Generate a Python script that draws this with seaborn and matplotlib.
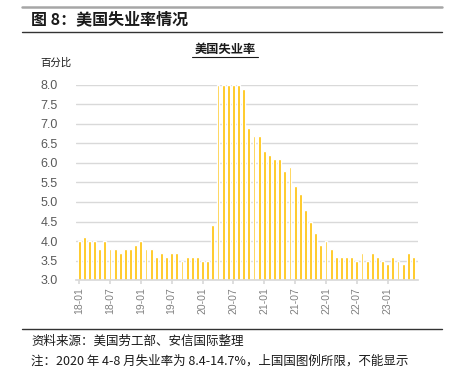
import matplotlib
matplotlib.use("Agg")
import matplotlib.pyplot as plt
from matplotlib.lines import Line2D
import seaborn as sns
import pandas as pd

months = [f"{y:02d}-{m:02d}" for y in range(18, 24) for m in range(1, 13)][:66]
rate = [
    4.0, 4.1, 4.0, 4.0, 3.8, 4.0, 3.8, 3.8, 3.7, 3.8, 3.8, 3.9,
    4.0, 3.8, 3.8, 3.6, 3.7, 3.6, 3.7, 3.7, 3.5, 3.6, 3.6, 3.6,
    3.5, 3.5, 4.4, 8.0, 8.0, 8.0, 8.0, 8.0, 7.9, 6.9, 6.7, 6.7,
    6.3, 6.2, 6.1, 6.1, 5.8, 5.9, 5.4, 5.2, 4.8, 4.5, 4.2, 3.9,
    4.0, 3.8, 3.6, 3.6, 3.6, 3.6, 3.5, 3.7, 3.5, 3.7, 3.6, 3.5,
    3.4, 3.6, 3.5, 3.4, 3.7, 3.6,
]
yticks = [3.0, 3.5, 4.0, 4.5, 5.0, 5.5, 6.0, 6.5, 7.0, 7.5, 8.0]
fig_title = "图 8：美国失业率情况"
chart_title = "美国失业率"
unit_label = "百分比"
source = "资料来源：美国劳工部、安信国际整理"
note = "注：2020 年 4-8 月失业率为 8.4-14.7%，上国国图例所限，不能显示"

df = pd.DataFrame({"month": months, "rate": rate})

sns.set_theme(style="white")
plt.rcParams["font.family"] = ["Noto Sans CJK SC", "DejaVu Sans"]

W, H = 450, 378
fig = plt.figure(figsize=(W / 100, H / 100), dpi=100)
ax = fig.add_axes([76 / W, 1 - 280 / H, (418 - 76) / W, (280 - 85) / H])

sns.barplot(data=df, x="month", y="rate", order=months, color="#FFC000",
            saturation=1, width=0.55, ax=ax)

ax.set_ylim(3.0, 8.0)
ax.set_xlim(-0.6, 65.9)
ax.set_yticks(yticks)
ax.set_yticklabels([f"{v:.1f}" for v in yticks], family="Liberation Sans",
                   fontsize=9, color="#595959")
tick_idx = list(range(0, 66, 6))[:11]
ax.set_xticks(tick_idx)
ax.set_xticklabels([months[i] for i in tick_idx], rotation=90,
                   family="Liberation Sans", fontsize=7.5, color="#808080")
ax.set_xlabel("")
ax.set_ylabel("")
ax.grid(axis="y", color="#D9D9D9", lw=1)
ax.set_axisbelow(True)
for s in ["top", "right", "left"]:
    ax.spines[s].set_visible(False)
ax.spines["bottom"].set_color("#D9D9D9")
ax.tick_params(axis="x", length=3, color="#D9D9D9", pad=2, bottom=True)
ax.tick_params(axis="y", length=0, pad=13)

def fy(y):
    return 1 - y / H

def fx(x):
    return x / W

fig.add_artist(Line2D([fx(22), fx(442)], [fy(7), fy(7)], color="#A6A6A6", lw=1.8))
fig.add_artist(Line2D([fx(22), fx(442)], [fy(32), fy(32)], color="#333333", lw=1))
fig.add_artist(Line2D([fx(22), fx(442)], [fy(329), fy(329)], color="#333333", lw=1))

fig.text(fx(31), fy(19), fig_title, fontsize=11.5, fontweight="bold",
         va="center", ha="left", color="#1a1a1a")
fig.text(fx(225), fy(49), chart_title, fontsize=8.8, fontweight="bold",
         va="center", ha="center", color="#1a1a1a")
fig.add_artist(Line2D([fx(192), fx(258)], [fy(57), fy(57)], color="#1a1a1a", lw=0.8))
fig.text(fx(40), fy(63), unit_label, fontsize=7.5, va="center", ha="left",
         color="#1a1a1a")
fig.text(fx(31), fy(341), source, fontsize=9, va="center", ha="left",
         color="#1a1a1a", style="italic")
fig.text(fx(31), fy(361), note, fontsize=9, va="center", ha="left",
         color="#1a1a1a", style="italic")

fig.savefig("out.png", dpi=100)
